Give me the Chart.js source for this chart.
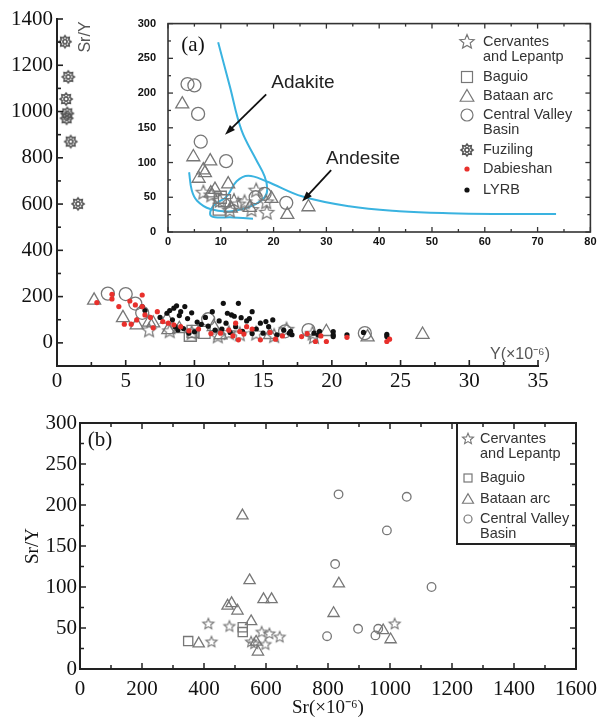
<!DOCTYPE html>
<html>
<head>
<meta charset="utf-8">
<script src="https://cdn.jsdelivr.net/npm/chart.js@4/dist/chart.umd.min.js"></script>
<style>
  html, body { margin: 0; padding: 0; background: #fff; }
  #wrap { position: relative; width: 605px; height: 719px; overflow: hidden; }
  canvas { position: absolute; }
  #mainA { left: 0; top: 0; }
  #insetA { left: 130px; top: 5px; }
  #panelB { left: 0; top: 405px; }
</style>
</head>
<body>
<div id="wrap">
  <canvas id="mainA" width="605" height="400"></canvas>
  <canvas id="insetA" width="470" height="250"></canvas>
  <canvas id="panelB" width="605" height="314"></canvas>
</div>
<script>
// ---- panel (a): Y (ppm) vs Sr/Y ----
const groupNames = ['Cervantes\nand Lepantp', 'Baguio', 'Bataan arc', 'Central Valley\nBasin', 'Fuziling', 'Dabieshan', 'LYRB'];

const cervY   = [6.7, 8.2, 9.8, 11.7, 12.5, 13.3, 14.5, 15.8, 16.7, 18.6, 18.7];
const cervSrY = [58, 54, 46, 32, 46, 41, 44, 33, 61, 44, 29];
const bagY    = [9.7, 9.9, 10.7];
const bagSrY  = [33, 50, 45];
const bataY   = [2.7, 4.8, 5.8, 6.7, 7.0, 8.0, 8.1, 8.9, 11.4, 11.9, 15.5, 19.6, 22.6, 26.6];
const bataSrY = [184, 108, 77, 89, 85, 102, 56, 61, 69, 34, 35, 48, 25, 36];
const cvbY    = [3.7, 5.0, 5.7, 6.2, 11.0, 16.6, 18.3, 22.4];
const cvbSrY  = [213, 211, 170, 130, 102, 50, 55, 42];
const fuzY    = [0.58, 0.82, 0.66, 0.75, 0.70, 1.0, 1.53];
const fuzSrY  = [1302, 1150, 1054, 992, 971, 870, 601];
const dabY    = [2.9, 4.0, 4.0, 4.5, 5.3, 6.2, 5.7, 4.9, 5.4, 6.4, 7.3, 7.7, 8.1, 8.5, 6.2, 5.8, 6.8, 7.0, 9.0, 9.6,
                 10.3, 11.2, 11.9, 12.5, 13.0, 13.3, 13.8, 13.2, 12.8, 13.6, 14.2, 14.8, 15.5, 15.9, 16.4, 17.8, 18.2,
                 18.8, 19.6, 19.2, 21.1, 24.0, 24.2];
const dabSrY  = [174, 210, 190, 157, 181, 207, 164, 81, 81, 121, 135, 92, 85, 78, 157, 99, 110, 65, 70, 52,
                 60, 40, 42, 55, 85, 49, 70, 13, 30, 38, 60, 13, 45, 16, 30, 27, 40,
                 6, 6, 30, 24, 6, 16];
const lyrbY   = [6.2, 6.4, 7.5, 8.0, 8.2, 8.5, 8.7, 8.9, 9.3, 9.0, 9.8, 8.4, 8.8, 9.6, 10.0, 8.6, 9.2, 10.5, 11.3, 10.8,
                 12.1, 13.2, 12.7, 12.4, 12.9, 13.4, 13.8, 14.2, 14.0, 14.8, 15.2, 15.7, 15.4, 14.5, 13.0, 12.3, 11.8,
                 11.5, 12.0, 12.6, 13.5, 14.2, 15.0, 16.0, 16.5, 17.1, 17.0, 16.9, 18.7, 19.0, 19.1, 20.1, 20.1, 20.1,
                 21.1, 22.3, 24.0, 24.0, 10.2, 11.0, 9.5];
const lyrbSrY = [157, 140, 110, 128, 140, 150, 160, 118, 157, 135, 130, 100, 56, 42, 48, 70, 62, 80, 135, 110,
                 171, 171, 121, 128, 115, 109, 95, 135, 105, 85, 92, 99, 70, 60, 70, 85, 95,
                 55, 60, 45, 50, 40, 42, 35, 55, 35, 50, 42, 42, 35, 50, 49, 35, 27,
                 35, 45, 37, 28, 90, 72, 105];

// adakite / andesite field boundaries (inset)
const adakLineY   = [9.5, 11.7, 13.9, 16.7, 18.3, 18.8, 18.3, 16.0, 12.0, 8.0, 5.5, 4.5, 4.0];
const adakLineSrY = [273, 210, 147, 104, 80, 62, 50, 38, 30, 33, 45, 60, 86];
const andeLineY   = [16.1, 12.3, 8.2, 8.5, 11.1, 13.0, 15.2, 18.6, 25.5, 34.3, 43.8, 53.2, 63.0, 73.5];
const andeLineSrY = [19, 21, 23, 37, 51, 73, 81, 73, 51, 37, 30, 27, 26, 26];

const mainXTicks  = [0, 5, 10, 15, 20, 25, 30, 35];
const mainYTicks  = [0, 200, 400, 600, 800, 1000, 1200, 1400];
const insetXTicks = [0, 10, 20, 30, 40, 50, 60, 70, 80];
const insetYTicks = [0, 50, 100, 150, 200, 250, 300];

// ---- panel (b): Sr (ppm) vs Sr/Y ----
const bCervSr  = [414, 482, 424, 552, 586, 611, 644, 598, 562, 1015];
const bCervSrY = [56, 53, 34, 34, 46, 44, 40, 31, 32, 56];
const bBagSr   = [349, 525, 525];
const bBagSrY  = [34, 51, 45];
const bBataSr  = [383, 476, 489, 508, 552, 592, 618, 547, 524, 574, 568, 818, 835, 978, 1002];
const bBataSrY = [31, 77, 80, 71, 58, 85, 85, 108, 187, 21, 33, 68, 104, 47, 36];
const bCvbSr   = [834, 1054, 990, 823, 1134, 797, 897, 953, 962];
const bCvbSrY  = [213, 210, 169, 128, 100, 40, 49, 41, 49];
const bXTicks  = [0, 200, 400, 600, 800, 1000, 1200, 1400, 1600];
const bYTicks  = [0, 50, 100, 150, 200, 250, 300];

const serif = '"Liberation Serif", "Times New Roman", serif';
const sans = '"Liberation Sans", Arial, sans-serif';
const markGrey = '#777';

function pts(xs, ys) {
    return xs.map((x, i) => ({ x: x, y: ys[i] }));
}

function mids(arr) {
    const out = [];
    for (let i = 1; i < arr.length; i++) out.push((arr[i - 1] + arr[i]) / 2);
    return out;
}

function starImg(r, color, lw) {
    const s = Math.ceil(r * 2 + lw * 2 + 2);
    const c = document.createElement('canvas');
    c.width = s; c.height = s;
    const g = c.getContext('2d');
    g.strokeStyle = color;
    g.lineWidth = lw;
    g.beginPath();
    for (let i = 0; i < 10; i++) {
        const rr = i % 2 ? r * 0.45 : r;
        const a = -Math.PI / 2 + i * Math.PI / 5;
        const px = s / 2 + rr * Math.cos(a), py = s / 2 + 1 + rr * Math.sin(a);
        if (i) g.lineTo(px, py); else g.moveTo(px, py);
    }
    g.closePath();
    g.stroke();
    return c;
}

function gearImg(r, color) {
    const s = Math.ceil(r * 2 + 4);
    const c = document.createElement('canvas');
    c.width = s; c.height = s;
    const g = c.getContext('2d');
    g.strokeStyle = color;
    g.lineWidth = 1.6;
    g.beginPath();
    const n = 8;
    for (let i = 0; i < n * 2; i++) {
        const rr = i % 2 ? r * 0.7 : r;
        const a = i * Math.PI / n;
        const px = s / 2 + rr * Math.cos(a), py = s / 2 + rr * Math.sin(a);
        if (i) g.lineTo(px, py); else g.moveTo(px, py);
    }
    g.closePath();
    g.stroke();
    g.beginPath();
    g.arc(s / 2, s / 2, r * 0.35, 0, Math.PI * 2);
    g.stroke();
    return c;
}

const starBig = starImg(7.5, markGrey, 1.2);
const starSmall = starImg(5.8, markGrey, 1.1);
const gear = gearImg(6, '#555');

function hollow(data, style, radius, extra) {
    return Object.assign({
        data: data,
        pointStyle: style,
        pointRadius: radius,
        pointBorderColor: markGrey,
        pointBackgroundColor: 'rgba(0,0,0,0)',
        pointBorderWidth: 1.3,
        showLine: false
    }, extra || {});
}

// inward ticks + optional frame
const inTicks = {
    id: 'inTicks',
    afterDraw(chart, args, o) {
        const ctx = chart.ctx, a = chart.chartArea, sx = chart.scales.x, sy = chart.scales.y;
        const line = (x1, y1, x2, y2) => { ctx.beginPath(); ctx.moveTo(x1, y1); ctx.lineTo(x2, y2); ctx.stroke(); };
        ctx.save();
        ctx.strokeStyle = o.color;
        ctx.lineWidth = o.width;
        if (o.box) ctx.strokeRect(a.left, a.top, a.right - a.left, a.bottom - a.top);
        ctx.lineWidth = o.tickWidth;
        [[o.xMajor, o.major], [o.xMinor, o.minor]].forEach(([vals, len]) => {
            vals.forEach(v => {
                const p = sx.getPixelForValue(v);
                line(p, a.bottom, p, a.bottom - len);
                if (o.box) line(p, a.top, p, a.top + len);
            });
        });
        [[o.yMajor, o.major], [o.yMinor, o.minor]].forEach(([vals, len]) => {
            vals.forEach(v => {
                const p = sy.getPixelForValue(v);
                line(a.left, p, a.left + len, p);
                if (o.box) line(a.right, p, a.right - len, p);
            });
        });
        ctx.restore();
    }
};

// text notes, arrows and legend drawn on top
function drawSymbol(ctx, kind, x, y, size) {
    ctx.save();
    ctx.strokeStyle = markGrey;
    ctx.lineWidth = 1.2;
    if (kind === 'star') {
        const img = size > 6 ? starBig : starSmall;
        ctx.drawImage(img, x - img.width / 2, y - img.height / 2 - 1);
    } else if (kind === 'gear') {
        ctx.drawImage(gear, x - gear.width / 2, y - gear.height / 2);
    } else if (kind === 'rect') {
        ctx.strokeRect(x - size, y - size, size * 2, size * 2);
    } else if (kind === 'triangle') {
        ctx.beginPath();
        ctx.moveTo(x, y - size * 1.05);
        ctx.lineTo(x + size * 1.1, y + size * 0.85);
        ctx.lineTo(x - size * 1.1, y + size * 0.85);
        ctx.closePath();
        ctx.stroke();
    } else if (kind === 'circle') {
        ctx.beginPath();
        ctx.arc(x, y, size, 0, Math.PI * 2);
        ctx.stroke();
    } else {
        ctx.fillStyle = kind;
        ctx.beginPath();
        ctx.arc(x, y, size, 0, Math.PI * 2);
        ctx.fill();
    }
    ctx.restore();
}

const notes = {
    id: 'notes',
    afterDraw(chart, args, o) {
        const ctx = chart.ctx, sx = chart.scales.x, sy = chart.scales.y;
        ctx.save();
        (o.texts || []).forEach(t => {
            ctx.save();
            ctx.font = t.font;
            ctx.fillStyle = t.color || '#222';
            ctx.textAlign = t.align || 'center';
            ctx.textBaseline = 'middle';
            ctx.translate(t.x, t.y);
            if (t.rot) ctx.rotate(t.rot);
            ctx.fillText(t.text, 0, 0);
            ctx.restore();
        });
        (o.arrows || []).forEach(ar => {
            const x1 = sx.getPixelForValue(ar.from[0]), y1 = sy.getPixelForValue(ar.from[1]);
            const x2 = sx.getPixelForValue(ar.to[0]), y2 = sy.getPixelForValue(ar.to[1]);
            const ang = Math.atan2(y2 - y1, x2 - x1);
            ctx.strokeStyle = '#111';
            ctx.fillStyle = '#111';
            ctx.lineWidth = 1.8;
            ctx.beginPath();
            ctx.moveTo(x1, y1);
            ctx.lineTo(x2 - 8 * Math.cos(ang), y2 - 8 * Math.sin(ang));
            ctx.stroke();
            ctx.beginPath();
            ctx.moveTo(x2, y2);
            ctx.lineTo(x2 - 11 * Math.cos(ang - 0.33), y2 - 11 * Math.sin(ang - 0.33));
            ctx.lineTo(x2 - 11 * Math.cos(ang + 0.33), y2 - 11 * Math.sin(ang + 0.33));
            ctx.closePath();
            ctx.fill();
        });
        if (o.legend) {
            const L = o.legend;
            if (L.boxLeft) {
                ctx.strokeStyle = '#222';
                ctx.lineWidth = 2;
                ctx.beginPath();
                ctx.moveTo(L.boxLeft, chart.chartArea.top);
                ctx.lineTo(L.boxLeft, L.boxBottom);
                ctx.lineTo(chart.chartArea.right, L.boxBottom);
                ctx.stroke();
            }
            ctx.font = L.font;
            ctx.fillStyle = '#333';
            ctx.textAlign = 'left';
            ctx.textBaseline = 'middle';
            L.names.forEach((name, i) => {
                const y = L.rows[i];
                drawSymbol(ctx, L.kinds[i], L.symX, y, L.sizes[i]);
                name.split('\n').forEach((ln, k) => ctx.fillText(ln, L.textX, y + k * L.lineGap));
            });
        }
        ctx.restore();
    }
};

function axis(min, max, tickVals, fixed, font, pad, horizontal, border) {
    const s = {
        type: 'linear',
        min: min,
        max: max,
        afterBuildTicks: sc => { sc.ticks = tickVals.map(v => ({ value: v })); },
        afterFit: sc => { if (horizontal) sc.height = fixed; else sc.width = fixed; },
        grid: { display: false, drawTicks: false },
        border: border ? { display: true, color: '#222', width: 2 } : { display: false },
        ticks: {
            padding: pad,
            color: '#111',
            font: font,
            autoSkip: false,
            maxRotation: 0,
            callback: v => String(v)
        }
    };
    return s;
}

const baseOpts = {
    responsive: false,
    animation: false,
    events: [],
    devicePixelRatio: 1
};

// ---- main panel (a) ----
new Chart(document.getElementById('mainA').getContext('2d'), {
    type: 'scatter',
    data: {
        datasets: [
            { data: pts(dabY, dabSrY), pointRadius: 2.6, pointBackgroundColor: '#e8302c', pointBorderWidth: 0 },
            { data: pts(lyrbY, lyrbSrY), pointRadius: 2.6, pointBackgroundColor: '#111', pointBorderWidth: 0 },
            hollow(pts(cervY, cervSrY), starBig, 7),
            hollow(pts(bagY, bagSrY), 'rect', 8.5),
            hollow(pts(bataY, bataSrY), 'triangle', 7.5),
            hollow(pts(cvbY, cvbSrY), 'circle', 6.5),
            hollow(pts(fuzY, fuzSrY), gear, 6)
        ]
    },
    options: Object.assign({}, baseOpts, {
        layout: { autoPadding: false, padding: { left: 0, right: 67, top: 19, bottom: 0 } },
        scales: {
            x: axis(0, 35, mainXTicks, 34, { family: serif, size: 21 }, 3, true, true),
            y: axis(-100, 1400, mainYTicks, 57, { family: serif, size: 21 }, 4, false, true)
        },
        plugins: {
            legend: { display: false },
            tooltip: { enabled: false },
            inTicks: {
                color: '#222', width: 2, tickWidth: 1.6, box: false, major: 6, minor: 4,
                xMajor: mainXTicks, xMinor: mids(mainXTicks),
                yMajor: mainYTicks, yMinor: mids(mainYTicks)
            },
            notes: {
                texts: [
                    { text: 'Sr/Y', x: 86, y: 37, rot: -Math.PI / 2, font: '16px ' + sans, color: '#555' },
                    { text: 'Y(\u00d710\u207b\u2076)', x: 520, y: 355, font: '16px ' + sans, color: '#555' }
                ]
            }
        }
    }),
    plugins: [inTicks, notes]
});

// ---- inset of panel (a) ----
new Chart(document.getElementById('insetA').getContext('2d'), {
    type: 'scatter',
    data: {
        datasets: [
            hollow(pts(cervY, cervSrY), starBig, 7),
            hollow(pts(bagY, bagSrY), 'rect', 8.5),
            hollow(pts(bataY, bataSrY), 'triangle', 7.5),
            hollow(pts(cvbY, cvbSrY), 'circle', 6.5),
            { data: pts(adakLineY, adakLineSrY), showLine: true, pointRadius: 0, borderColor: '#3ab3e0', borderWidth: 2, tension: 0.4 },
            { data: pts(andeLineY, andeLineSrY), showLine: true, pointRadius: 0, borderColor: '#3ab3e0', borderWidth: 2, tension: 0.4 }
        ]
    },
    options: Object.assign({}, baseOpts, {
        layout: { autoPadding: false, padding: { left: 0, right: 9, top: 17, bottom: 0 } },
        scales: {
            x: axis(0, 80, insetXTicks, 23, { family: sans, size: 11, weight: 'bold' }, 3.5, true, false),
            y: axis(0, 300, insetYTicks, 38, { family: sans, size: 11, weight: 'bold' }, 12, false, false)
        },
        plugins: {
            legend: { display: false },
            tooltip: { enabled: false },
            inTicks: {
                color: '#333', width: 1.6, tickWidth: 1.3, box: true, major: 5, minor: 3,
                xMajor: insetXTicks, xMinor: mids(insetXTicks),
                yMajor: insetYTicks, yMinor: mids(insetYTicks)
            },
            notes: {
                texts: [
                    { text: '(a)', x: 63, y: 40, font: '21px ' + serif, color: '#111' },
                    { text: 'Adakite', x: 173, y: 78, font: '19px ' + sans, color: '#222' },
                    { text: 'Andesite', x: 233, y: 154, font: '19px ' + sans, color: '#222' }
                ],
                arrows: [
                    { from: [18.6, 198], to: [10.8, 140] },
                    { from: [30.9, 89], to: [25.4, 44] }
                ],
                legend: {
                    names: groupNames,
                    kinds: ['star', 'rect', 'triangle', 'circle', 'gear', '#e8302c', '#111'],
                    sizes: [7, 5.5, 6.2, 6, 6, 2.6, 2.6],
                    rows: [37, 72, 91, 110, 145, 164, 185],
                    symX: 337, textX: 353, lineGap: 15,
                    font: '14.5px ' + sans
                }
            }
        }
    }),
    plugins: [inTicks, notes]
});

// ---- panel (b) ----
new Chart(document.getElementById('panelB').getContext('2d'), {
    type: 'scatter',
    data: {
        datasets: [
            hollow(pts(bCervSr, bCervSrY), starSmall, 5.5),
            hollow(pts(bBagSr, bBagSrY), 'rect', 6.5),
            hollow(pts(bBataSr, bBataSrY), 'triangle', 6.5),
            hollow(pts(bCvbSr, bCvbSrY), 'circle', 4.3)
        ]
    },
    options: Object.assign({}, baseOpts, {
        layout: { autoPadding: false, padding: { left: 0, right: 23, top: 18, bottom: 0 } },
        scales: {
            x: Object.assign(axis(0, 1600, bXTicks, 50, { family: serif, size: 21 }, 8, true, false), {
                title: { display: true, text: 'Sr(\u00d710\u207b\u2076)', color: '#111', font: { family: serif, size: 19, lineHeight: 1.2 }, padding: { top: 0, bottom: 0 } }
            }),
            y: Object.assign(axis(0, 300, bYTicks, 80, { family: serif, size: 21 }, 3, false, false), {
                title: { display: true, text: 'Sr/Y', color: '#111', font: { family: serif, size: 19, lineHeight: 1.2 }, padding: { top: 22, bottom: 0 } }
            })
        },
        plugins: {
            legend: { display: false },
            tooltip: { enabled: false },
            inTicks: {
                color: '#222', width: 2, tickWidth: 1.5, box: true, major: 6, minor: 4,
                xMajor: bXTicks, xMinor: mids(bXTicks),
                yMajor: bYTicks, yMinor: mids(bYTicks)
            },
            notes: {
                texts: [
                    { text: '(b)', x: 100, y: 35, font: '21px ' + serif, color: '#111' }
                ],
                legend: {
                    names: groupNames.slice(0, 4),
                    kinds: ['star', 'rect', 'triangle', 'circle'],
                    sizes: [5, 4, 5, 4],
                    rows: [34, 73, 94, 114],
                    symX: 468, textX: 480, lineGap: 15,
                    font: '14.5px ' + sans,
                    boxLeft: 457, boxBottom: 139
                }
            }
        }
    }),
    plugins: [inTicks, notes]
});
</script>
</body>
</html>
